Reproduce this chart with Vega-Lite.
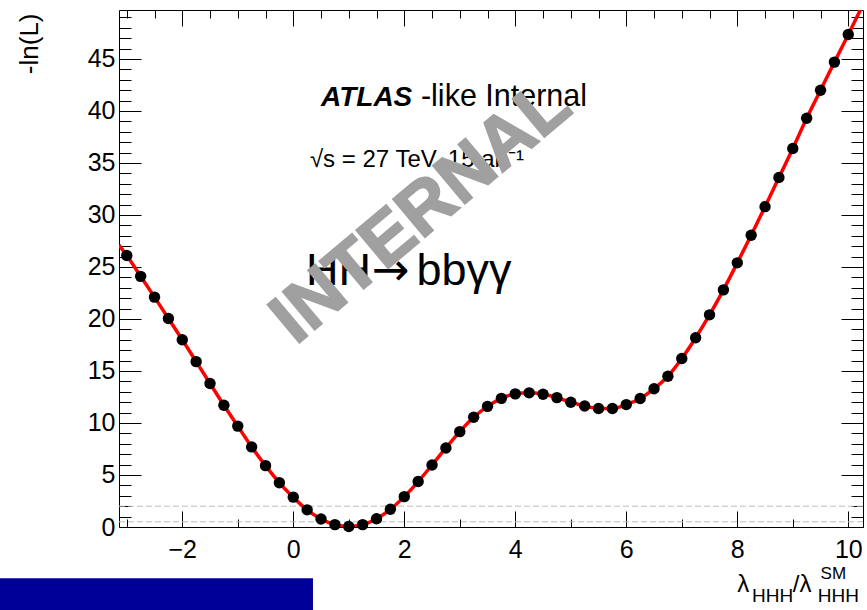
{
  "$schema": "https://vega.github.io/schema/vega-lite/v6.json",
  "width": 744,
  "height": 517,
  "autosize": {"type": "none"},
  "padding": {"left": 119, "top": 10, "right": 4, "bottom": 83},
  "background": "white",
  "config": {"view": {"stroke": "black", "strokeWidth": 1}, "font": "Liberation Sans"},
  "datasets": {
    "scan": [
      {"lambda": -3.0, "nll": 26.1}, {"lambda": -2.75, "nll": 24.1}, {"lambda": -2.5, "nll": 22.1}, {"lambda": -2.25, "nll": 20.05},
      {"lambda": -2.0, "nll": 18.0}, {"lambda": -1.75, "nll": 15.9}, {"lambda": -1.5, "nll": 13.8}, {"lambda": -1.25, "nll": 11.7},
      {"lambda": -1.0, "nll": 9.7}, {"lambda": -0.75, "nll": 7.7}, {"lambda": -0.5, "nll": 5.9}, {"lambda": -0.25, "nll": 4.25},
      {"lambda": 0.0, "nll": 2.87}, {"lambda": 0.25, "nll": 1.65}, {"lambda": 0.5, "nll": 0.77}, {"lambda": 0.75, "nll": 0.23},
      {"lambda": 1.0, "nll": 0.05}, {"lambda": 1.25, "nll": 0.23}, {"lambda": 1.5, "nll": 0.8}, {"lambda": 1.75, "nll": 1.7},
      {"lambda": 2.0, "nll": 2.92}, {"lambda": 2.25, "nll": 4.37}, {"lambda": 2.5, "nll": 5.96}, {"lambda": 2.75, "nll": 7.6},
      {"lambda": 3.0, "nll": 9.17}, {"lambda": 3.25, "nll": 10.55}, {"lambda": 3.5, "nll": 11.6}, {"lambda": 3.75, "nll": 12.37},
      {"lambda": 4.0, "nll": 12.8}, {"lambda": 4.25, "nll": 12.9}, {"lambda": 4.5, "nll": 12.76}, {"lambda": 4.75, "nll": 12.44},
      {"lambda": 5.0, "nll": 12.0}, {"lambda": 5.25, "nll": 11.63}, {"lambda": 5.5, "nll": 11.4}, {"lambda": 5.75, "nll": 11.4},
      {"lambda": 6.0, "nll": 11.77}, {"lambda": 6.25, "nll": 12.35}, {"lambda": 6.5, "nll": 13.3}, {"lambda": 6.75, "nll": 14.5},
      {"lambda": 7.0, "nll": 16.2}, {"lambda": 7.25, "nll": 18.2}, {"lambda": 7.5, "nll": 20.4}, {"lambda": 7.75, "nll": 22.8},
      {"lambda": 8.0, "nll": 25.4}, {"lambda": 8.25, "nll": 28.05}, {"lambda": 8.5, "nll": 30.8}, {"lambda": 8.75, "nll": 33.6},
      {"lambda": 9.0, "nll": 36.4}, {"lambda": 9.25, "nll": 39.3}, {"lambda": 9.5, "nll": 42.0}, {"lambda": 9.75, "nll": 44.7},
      {"lambda": 10.0, "nll": 47.35}
    ],
    "curve": [
      {"lambda": -3.14, "nll": 27.1},
      {"lambda": -3.0, "nll": 26.1}, {"lambda": -2.75, "nll": 24.1}, {"lambda": -2.5, "nll": 22.1}, {"lambda": -2.25, "nll": 20.05},
      {"lambda": -2.0, "nll": 18.0}, {"lambda": -1.75, "nll": 15.9}, {"lambda": -1.5, "nll": 13.8}, {"lambda": -1.25, "nll": 11.7},
      {"lambda": -1.0, "nll": 9.7}, {"lambda": -0.75, "nll": 7.7}, {"lambda": -0.5, "nll": 5.9}, {"lambda": -0.25, "nll": 4.25},
      {"lambda": 0.0, "nll": 2.87}, {"lambda": 0.25, "nll": 1.65}, {"lambda": 0.5, "nll": 0.77}, {"lambda": 0.75, "nll": 0.23},
      {"lambda": 1.0, "nll": 0.05}, {"lambda": 1.25, "nll": 0.23}, {"lambda": 1.5, "nll": 0.8}, {"lambda": 1.75, "nll": 1.7},
      {"lambda": 2.0, "nll": 2.92}, {"lambda": 2.25, "nll": 4.37}, {"lambda": 2.5, "nll": 5.96}, {"lambda": 2.75, "nll": 7.6},
      {"lambda": 3.0, "nll": 9.17}, {"lambda": 3.25, "nll": 10.55}, {"lambda": 3.5, "nll": 11.6}, {"lambda": 3.75, "nll": 12.37},
      {"lambda": 4.0, "nll": 12.8}, {"lambda": 4.25, "nll": 12.9}, {"lambda": 4.5, "nll": 12.76}, {"lambda": 4.75, "nll": 12.44},
      {"lambda": 5.0, "nll": 12.0}, {"lambda": 5.25, "nll": 11.63}, {"lambda": 5.5, "nll": 11.4}, {"lambda": 5.75, "nll": 11.4},
      {"lambda": 6.0, "nll": 11.77}, {"lambda": 6.25, "nll": 12.35}, {"lambda": 6.5, "nll": 13.3}, {"lambda": 6.75, "nll": 14.5},
      {"lambda": 7.0, "nll": 16.2}, {"lambda": 7.25, "nll": 18.2}, {"lambda": 7.5, "nll": 20.4}, {"lambda": 7.75, "nll": 22.8},
      {"lambda": 8.0, "nll": 25.4}, {"lambda": 8.25, "nll": 28.05}, {"lambda": 8.5, "nll": 30.8}, {"lambda": 8.75, "nll": 33.6},
      {"lambda": 9.0, "nll": 36.4}, {"lambda": 9.25, "nll": 39.3}, {"lambda": 9.5, "nll": 42.0}, {"lambda": 9.75, "nll": 44.7},
      {"lambda": 10.0, "nll": 47.35},
      {"lambda": 10.3, "nll": 50.6}
    ]
  },
  "layer": [
    {
      "data": {"values": [{}]},
      "mark": {"type": "rule", "strokeDash": [6, 3], "color": "#bdbdbd", "strokeWidth": 1},
      "encoding": {"y": {"datum": 0.5, "type": "quantitative", "axis": null}}
    },
    {
      "data": {"values": [{}]},
      "mark": {"type": "rule", "strokeDash": [6, 3], "color": "#bdbdbd", "strokeWidth": 1},
      "encoding": {"y": {"datum": 2, "type": "quantitative", "axis": null}}
    },
    {
      "data": {"name": "curve"},
      "mark": {"type": "line", "color": "#ff0000", "strokeWidth": 3.5, "interpolate": "monotone", "clip": true},
      "encoding": {
        "x": {
          "field": "lambda", "type": "quantitative",
          "scale": {"domain": [-3.14, 10.265], "nice": false, "zero": false},
          "axis": {
            "orient": "bottom",
            "values": [-3, -2.5, -2, -1.5, -1, -0.5, 0, 0.5, 1, 1.5, 2, 2.5, 3, 3.5, 4, 4.5, 5, 5.5, 6, 6.5, 7, 7.5, 8, 8.5, 9, 9.5, 10],
            "format": "d",
            "labelExpr": "datum.value % 2 == 0 ? datum.label : ''",
            "tickSize": {"condition": {"test": "datum.value % 2 == 0", "value": -16}, "value": -8},
            "tickColor": "black", "tickWidth": 1,
            "labelFontSize": 25, "labelFont": "Liberation Sans", "labelColor": "black",
            "labelPadding": 26, "labelFlush": false, "labelOverlap": false,
            "domain": false, "grid": false, "title": null
          }
        },
        "y": {
          "field": "nll", "type": "quantitative",
          "scale": {"domain": [0, 49.71], "nice": false},
          "axis": {
            "orient": "left",
            "values": [0,1,2,3,4,5,6,7,8,9,10,11,12,13,14,15,16,17,18,19,20,21,22,23,24,25,26,27,28,29,30,31,32,33,34,35,36,37,38,39,40,41,42,43,44,45,46,47,48,49],
            "format": "d",
            "labelExpr": "datum.value % 5 == 0 ? datum.label : ''",
            "tickSize": {"condition": {"test": "datum.value % 5 == 0", "value": -22}, "value": -12},
            "tickColor": "black", "tickWidth": 1,
            "labelFontSize": 25, "labelFont": "Liberation Sans", "labelColor": "black",
            "labelPadding": 26, "labelFlush": false, "labelOverlap": false,
            "domain": false, "grid": false,
            "title": "-ln(L)", "titleFontSize": 26, "titleFont": "Liberation Sans", "titleFontWeight": "normal", "titleColor": "black",
            "titleAngle": -90, "titleX": -90, "titleY": 3, "titleAlign": "right", "titleBaseline": "middle"
          }
        }
      }
    },
    {
      "data": {"name": "scan"},
      "mark": {"type": "circle", "color": "black", "opacity": 1, "size": 130},
      "encoding": {
        "x": {
          "field": "lambda", "type": "quantitative",
          "axis": {
            "orient": "top",
            "values": [-3, -2.5, -2, -1.5, -1, -0.5, 0, 0.5, 1, 1.5, 2, 2.5, 3, 3.5, 4, 4.5, 5, 5.5, 6, 6.5, 7, 7.5, 8, 8.5, 9, 9.5, 10],
            "labels": false,
            "tickSize": {"condition": {"test": "datum.value % 2 == 0", "value": -16}, "value": -8},
            "tickColor": "black", "tickWidth": 1,
            "domain": false, "grid": false, "title": null
          }
        },
        "y": {
          "field": "nll", "type": "quantitative",
          "axis": {
            "orient": "right",
            "values": [0,1,2,3,4,5,6,7,8,9,10,11,12,13,14,15,16,17,18,19,20,21,22,23,24,25,26,27,28,29,30,31,32,33,34,35,36,37,38,39,40,41,42,43,44,45,46,47,48,49],
            "labels": false,
            "tickSize": {"condition": {"test": "datum.value % 5 == 0", "value": -22}, "value": -12},
            "tickColor": "black", "tickWidth": 1,
            "domain": false, "grid": false, "title": null
          }
        }
      }
    },
    {
      "data": {"values": [{}]},
      "mark": {"type": "text", "text": "ATLAS", "font": "Liberation Sans", "fontWeight": "bold", "fontStyle": "italic", "fontSize": 28, "align": "left", "baseline": "alphabetic", "color": "black"},
      "encoding": {"x": {"datum": 0.5, "type": "quantitative", "axis": null}, "y": {"datum": 40.5, "type": "quantitative", "axis": null}}
    },
    {
      "data": {"values": [{}]},
      "mark": {"type": "text", "text": "-like Internal", "font": "Liberation Sans", "fontSize": 30.5, "align": "left", "baseline": "alphabetic", "color": "black"},
      "encoding": {"x": {"datum": 2.3, "type": "quantitative", "axis": null}, "y": {"datum": 40.5, "type": "quantitative", "axis": null}}
    },
    {
      "data": {"values": [{}]},
      "mark": {"type": "text", "text": "√s = 27 TeV, 15 ab⁻¹", "font": "Liberation Sans", "fontSize": 24, "align": "left", "baseline": "alphabetic", "color": "black"},
      "encoding": {"x": {"datum": 0.3, "type": "quantitative", "axis": null}, "y": {"datum": 34.6, "type": "quantitative", "axis": null}}
    },
    {
      "data": {"values": [{}]},
      "mark": {"type": "text", "text": "HH", "font": "Liberation Sans", "fontSize": 45, "align": "left", "baseline": "alphabetic", "color": "black"},
      "encoding": {"x": {"datum": 0.23, "type": "quantitative", "axis": null}, "y": {"datum": 23.3, "type": "quantitative", "axis": null}}
    },
    {
      "data": {"values": [{}]},
      "mark": {"type": "text", "text": "→", "font": "DejaVu Sans", "fontSize": 45, "align": "left", "baseline": "alphabetic", "color": "black"},
      "encoding": {"x": {"datum": 1.41, "type": "quantitative", "axis": null}, "y": {"datum": 23.3, "type": "quantitative", "axis": null}}
    },
    {
      "data": {"values": [{}]},
      "mark": {"type": "text", "text": "bbγγ", "font": "Liberation Sans", "fontSize": 45, "align": "left", "baseline": "alphabetic", "color": "black"},
      "encoding": {"x": {"datum": 2.22, "type": "quantitative", "axis": null}, "y": {"datum": 23.3, "type": "quantitative", "axis": null}}
    },
    {
      "data": {"values": [{}]},
      "mark": {"type": "text", "text": "INTERNAL", "font": "Liberation Sans", "fontWeight": "bold", "fontSize": 72, "angle": 320, "align": "center", "baseline": "middle", "color": "#a0a0a0", "stroke": "#a0a0a0", "strokeWidth": 2},
      "encoding": {"x": {"datum": 2.3, "type": "quantitative", "axis": null}, "y": {"datum": 30.3, "type": "quantitative", "axis": null}}
    },
    {
      "data": {"values": [{}]},
      "mark": {"type": "rect", "color": "#000099", "clip": false},
      "encoding": {
        "x": {"datum": -5.4, "type": "quantitative", "axis": null}, "x2": {"datum": 0.355},
        "y": {"datum": -4.93, "type": "quantitative", "axis": null}, "y2": {"datum": -8.2}
      }
    },
    {
      "data": {"values": [{}]},
      "mark": {"type": "text", "text": "λ", "font": "Liberation Sans", "fontSize": 24, "align": "left", "baseline": "alphabetic", "color": "black"},
      "encoding": {"x": {"datum": 8.0, "type": "quantitative", "axis": null}, "y": {"datum": -6.28, "type": "quantitative", "axis": null}}
    },
    {
      "data": {"values": [{}]},
      "mark": {"type": "text", "text": "HHH", "font": "Liberation Sans", "fontSize": 19, "align": "left", "baseline": "alphabetic", "color": "black"},
      "encoding": {"x": {"datum": 8.265, "type": "quantitative", "axis": null}, "y": {"datum": -7.2, "type": "quantitative", "axis": null}}
    },
    {
      "data": {"values": [{}]},
      "mark": {"type": "text", "text": "/λ", "font": "Liberation Sans", "fontSize": 24, "align": "left", "baseline": "alphabetic", "color": "black"},
      "encoding": {"x": {"datum": 9.0, "type": "quantitative", "axis": null}, "y": {"datum": -6.28, "type": "quantitative", "axis": null}}
    },
    {
      "data": {"values": [{}]},
      "mark": {"type": "text", "text": "SM", "font": "Liberation Sans", "fontSize": 17, "align": "left", "baseline": "alphabetic", "color": "black"},
      "encoding": {"x": {"datum": 9.5, "type": "quantitative", "axis": null}, "y": {"datum": -5.0, "type": "quantitative", "axis": null}}
    },
    {
      "data": {"values": [{}]},
      "mark": {"type": "text", "text": "HHH", "font": "Liberation Sans", "fontSize": 19, "align": "left", "baseline": "alphabetic", "color": "black"},
      "encoding": {"x": {"datum": 9.45, "type": "quantitative", "axis": null}, "y": {"datum": -7.2, "type": "quantitative", "axis": null}}
    }
  ],
  "resolve": {"axis": {"x": "independent", "y": "independent"}}
}
